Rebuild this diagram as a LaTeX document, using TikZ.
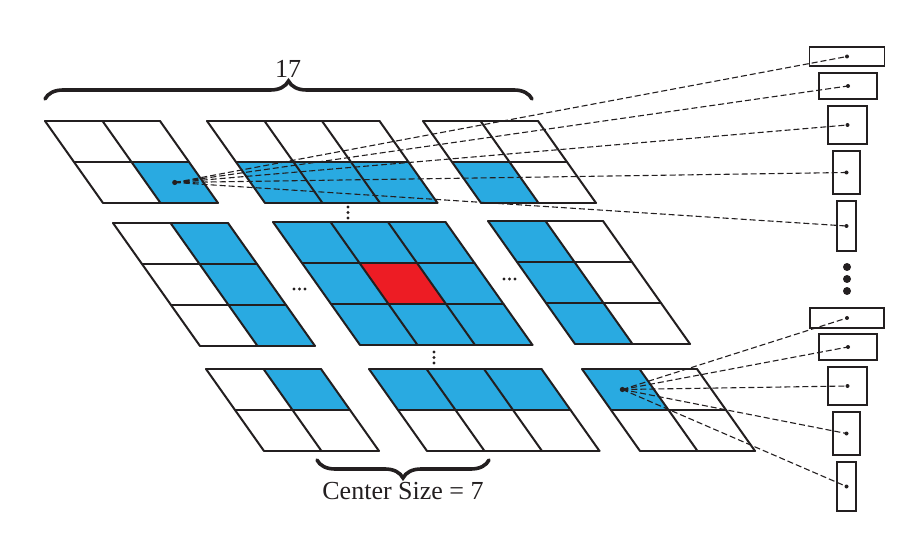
\documentclass[tikz,border=0pt]{standalone}
\usepackage{fontspec}
\setmainfont{Liberation Serif}
\usetikzlibrary{decorations.pathreplacing}

\definecolor{cellblue}{RGB}{41,170,225}
\definecolor{cellred}{RGB}{237,28,36}
\definecolor{inkgrey}{RGB}{35,31,32}

% lines of a slanted patch, #1 columns and #2 rows
\newcommand{\GridLines}[2]{%
  \foreach \i in {0,...,#1} \draw[EdgeStyle] (\i,0) -- (\i,#2);
  \foreach \j in {0,...,#2} \draw[EdgeStyle] (0,\j) -- (#1,\j);
}
% one coloured cell of a patch
\newcommand{\PaintCell}[3][cellblue]{%
  \fill[#1] (#2,#3) -- ++(1,0) -- ++(0,1) -- ++(-1,0) -- cycle;
}

\begin{document}
\begin{tikzpicture}[x=0.5pt, y=-0.5pt]
    \tikzset{EdgeStyle/.style={draw=inkgrey, line width=1pt, line cap=round}}
    \tikzset{PatchStyle/.style={x={(28.75pt,0pt)}, y={(14.5pt,-20.5pt)}}}
    \tikzset{LinkStyle/.style={draw=inkgrey, dash pattern=on 3pt off 1.5pt, line width=0.55pt}}
    \tikzset{BoxStyle/.style 2 args={draw=inkgrey, line width=0.9pt, minimum width=#1, minimum height=#2, inner sep=0pt}}
    \tikzset{BraceStyle/.style={draw=inkgrey, line width=1.8pt, line cap=round, decorate, decoration={brace, amplitude=9pt}}}
    \tikzset{LabelStyle/.style={font=\fontsize{13}{15}\selectfont, text=inkgrey}}

    \useasboundingbox (0,0) rectangle (921,545);

    % top row of patches
    \begin{scope}[shift={(45,121)}, PatchStyle]
        \PaintCell{1}{1}
        \GridLines{2}{2}
        \coordinate (src1) at (1.5,1.5);
    \end{scope}
    \begin{scope}[shift={(207,121)}, PatchStyle]
        \foreach \i in {0,1,2} {\PaintCell{\i}{1}}
        \GridLines{3}{2}
    \end{scope}
    \begin{scope}[shift={(423,121)}, PatchStyle]
        \PaintCell{0}{1}
        \GridLines{2}{2}
    \end{scope}

    % middle row of patches
    \begin{scope}[shift={(113,223)}, PatchStyle]
        \foreach \j in {0,1,2} {\PaintCell{1}{\j}}
        \GridLines{2}{3}
    \end{scope}
    \begin{scope}[shift={(273,222)}, PatchStyle]
        \foreach \i in {0,1,2} {
            \foreach \j in {0,1,2} {\PaintCell{\i}{\j}}
        }
        \PaintCell[cellred]{1}{1}
        \GridLines{3}{3}
    \end{scope}
    \begin{scope}[shift={(488,221)}, PatchStyle]
        \foreach \j in {0,1,2} {\PaintCell{0}{\j}}
        \GridLines{2}{3}
    \end{scope}

    % bottom row of patches
    \begin{scope}[shift={(206,369)}, PatchStyle]
        \PaintCell{1}{0}
        \GridLines{2}{2}
    \end{scope}
    \begin{scope}[shift={(369,369)}, PatchStyle]
        \foreach \i in {0,1,2} {\PaintCell{\i}{0}}
        \GridLines{3}{2}
    \end{scope}
    \begin{scope}[shift={(582,369)}, PatchStyle]
        \PaintCell{0}{0}
        \GridLines{2}{2}
        \coordinate (src2) at (0.45,0.5);
    \end{scope}

    % small dots between patches
    \foreach \y in {207,212.5,218} \fill[inkgrey] (348,\y) circle (0.8pt);
    \foreach \y in {352,357.5,363} \fill[inkgrey] (434,\y) circle (0.8pt);
    \foreach \x in {294,299.5,305} \fill[inkgrey] (\x,289) circle (0.8pt);
    \foreach \x in {504,509.5,515} \fill[inkgrey] (\x,279) circle (0.8pt);

    % boxes on the right
    \node[BoxStyle={37.5pt}{9.5pt}] (box1) at (847,56.5) {};
    \node[BoxStyle={29pt}{13pt}] (box2) at (848,86) {};
    \node[BoxStyle={19.5pt}{19pt}] (box3) at (847.5,125) {};
    \node[BoxStyle={13.5pt}{21.5pt}] (box4) at (846.5,172.5) {};
    \node[BoxStyle={9.5pt}{25pt}] (box5) at (846.5,226) {};
    \node[BoxStyle={37pt}{10pt}] (box6) at (847,318) {};
    \node[BoxStyle={29pt}{13pt}] (box7) at (848,347) {};
    \node[BoxStyle={19.5pt}{19pt}] (box8) at (847.5,386) {};
    \node[BoxStyle={13.5pt}{21.5pt}] (box9) at (846.5,433.5) {};
    \node[BoxStyle={9.5pt}{24.5pt}] (box10) at (846.5,486.5) {};
    \foreach \y in {267,279,291} \fill[inkgrey] (847,\y) circle (2pt);

    % dashed links
    \foreach \k in {1,...,5} {
        \draw[LinkStyle] (src1) -- (box\k.center);
        \fill[inkgrey] (box\k.center) circle (1pt);
    }
    \foreach \k in {6,...,10} {
        \draw[LinkStyle] (src2) -- (box\k.center);
        \fill[inkgrey] (box\k.center) circle (1pt);
    }
    \fill[inkgrey] (src1) circle (1.3pt);
    \fill[inkgrey] (src2) circle (1.3pt);

    % braces
    \draw[BraceStyle] (45,99) -- (532,99);
    \node[LabelStyle] (total) at (288,69) {17};
    \draw[BraceStyle] (489,460) -- (317,460);
    \node[LabelStyle] (center) at (403,491) {Center Size = 7};
\end{tikzpicture}
\end{document}
